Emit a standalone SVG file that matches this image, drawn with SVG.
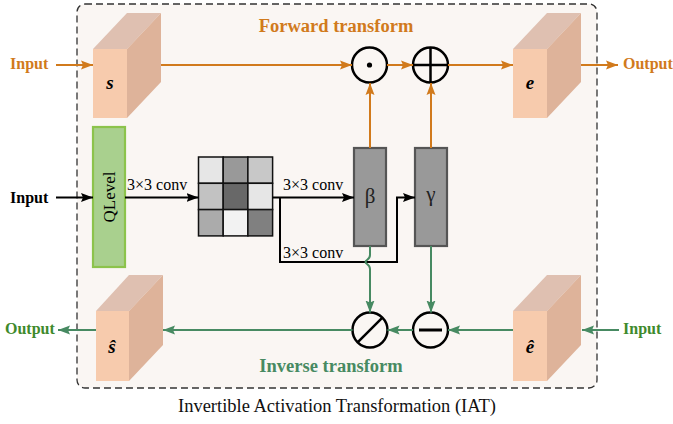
<svg xmlns="http://www.w3.org/2000/svg" width="673" height="424" viewBox="0 0 673 424">
<defs>
<style>
.serif{font-family:"Liberation Serif","Times New Roman",serif}
.bold{font-weight:bold}
.orange{fill:#D17A1C}
.green{fill:#3F8A2C}
.ginv{fill:#478A62}
.front{fill:#F7CBAD}
.top{fill:#DFC0B1}
.side{fill:#DEB39A}
.lo{stroke:#D17A1C;stroke-width:2;fill:none}
.lg{stroke:#478A62;stroke-width:2;fill:none}
.lk{stroke:#000;stroke-width:2;fill:none}
.op{fill:none;stroke:#000;stroke-width:2.5}
.cell{stroke:#111;stroke-width:1.5}
.param{fill:#999;stroke:#555;stroke-width:2.2}
.lbl{font-family:"Liberation Serif","Times New Roman",serif;font-size:16px}
.greek{font-family:"Liberation Serif","Times New Roman",serif;font-size:21px;fill:#222}
.cubel{font-family:"Liberation Serif","Times New Roman",serif;font-size:19px;font-weight:bold;font-style:italic}
</style>
<marker id="ao" markerUnits="userSpaceOnUse" markerWidth="13" markerHeight="10" refX="12" refY="5" orient="auto"><path d="M0,0.5 L12,5 L0,9.5 L2,5 z" fill="#D17A1C"/></marker>
<marker id="ag" markerUnits="userSpaceOnUse" markerWidth="13" markerHeight="10" refX="12" refY="5" orient="auto"><path d="M0,0.5 L12,5 L0,9.5 L2,5 z" fill="#478A62"/></marker>
<marker id="ak" markerUnits="userSpaceOnUse" markerWidth="13" markerHeight="10" refX="12" refY="5" orient="auto"><path d="M0,0.5 L12,5 L0,9.5 L2,5 z" fill="#000"/></marker>
</defs>
<rect width="673" height="424" fill="#fff"/>
<g id="frame">
<rect x="77" y="4" width="520" height="384" rx="8" fill="#FAF6F3" stroke="#333" stroke-width="1.3" stroke-dasharray="7,4"/>
</g>
<text x="336" y="32" text-anchor="middle" class="serif bold orange" font-size="18.5">Forward transform</text>
<text x="331" y="372" text-anchor="middle" class="serif bold ginv" font-size="18.5">Inverse transform</text>
<text x="337" y="412" text-anchor="middle" class="serif" font-size="18.5" fill="#111">Invertible Activation Transformation (IAT)</text>

<g id="cube-s">
<polygon class="top" points="93,49 127,13 161,13 127,49"/>
<polygon class="side" points="127,49 161,13 161,82 127,118"/>
<rect class="front" x="93" y="49" width="34" height="69"/>
<text x="110" y="89" text-anchor="middle" class="cubel">s</text>
</g>
<g id="cube-e">
<polygon class="top" points="513,49 547,13 581,13 547,49"/>
<polygon class="side" points="547,49 581,13 581,82 547,118"/>
<rect class="front" x="513" y="49" width="34" height="69"/>
<text x="530" y="89" text-anchor="middle" class="cubel">e</text>
</g>
<g id="cube-shat">
<polygon class="top" points="96,311 129,275 163,275 129,311"/>
<polygon class="side" points="129,311 163,275 163,345 129,381"/>
<rect class="front" x="96" y="311" width="33" height="70"/>
<text x="112" y="353" text-anchor="middle" class="cubel">ŝ</text>
</g>
<g id="cube-ehat">
<polygon class="top" points="513,311 547,275 581,275 547,311"/>
<polygon class="side" points="547,311 581,275 581,345 547,381"/>
<rect class="front" x="513" y="311" width="34" height="70"/>
<text x="530" y="353" text-anchor="middle" class="cubel">ê</text>
</g>
<g id="qlevel">
<rect x="93" y="127" width="32" height="140" fill="#A9D08E" stroke="#8CC34B" stroke-width="2.2"/>
<text transform="translate(114.5,197) rotate(-90)" text-anchor="middle" class="serif" style="font-size:17px">QLevel</text>
</g>
<g id="kernel">
<rect class="cell" x="198.5" y="157" width="24.7" height="26.3" fill="#E6E6E6"/>
<rect class="cell" x="223.2" y="157" width="24.7" height="26.3" fill="#999"/>
<rect class="cell" x="247.9" y="157" width="24.7" height="26.3" fill="#C8C8C8"/>
<rect class="cell" x="198.5" y="183.3" width="24.7" height="26.3" fill="#C2C2C2"/>
<rect class="cell" x="223.2" y="183.3" width="24.7" height="26.3" fill="#686868"/>
<rect class="cell" x="247.9" y="183.3" width="24.7" height="26.3" fill="#E6E6E6"/>
<rect class="cell" x="198.5" y="209.6" width="24.7" height="26.3" fill="#ABABAB"/>
<rect class="cell" x="223.2" y="209.6" width="24.7" height="26.3" fill="#F2F2F2"/>
<rect class="cell" x="247.9" y="209.6" width="24.7" height="26.3" fill="#808080"/>
</g>
<g id="beta">
<rect class="param" x="354" y="148" width="32" height="98"/>
<text x="370" y="203" text-anchor="middle" class="greek">β</text>
</g>
<g id="gamma">
<rect class="param" x="415" y="148" width="32" height="98"/>
<text x="431" y="201" text-anchor="middle" class="greek">γ</text>
</g>
<g id="odot">
<circle class="op" cx="369.5" cy="65" r="17.5"/>
<circle cx="369.5" cy="65" r="2.6" fill="#000"/>
</g>
<g id="oplus">
<circle class="op" cx="430.5" cy="65" r="17.5"/>
<path class="op" d="M413,65 H448 M430.5,47.5 V82.5"/>
</g>
<g id="oslash">
<circle class="op" cx="370" cy="330" r="17.5"/>
<path class="op" d="M357.6,342.4 L382.4,317.6"/>
</g>
<g id="ominus">
<circle class="op" cx="430.5" cy="330" r="17.5"/>
<path d="M419,330 H442" stroke="#000" stroke-width="3"/>
</g>

<g id="connectors">
<path class="lo" d="M56,65 H93" marker-end="url(#ao)"/>
<path class="lo" d="M161,65 H352" marker-end="url(#ao)"/>
<path class="lo" d="M387,65 H413" marker-end="url(#ao)"/>
<path class="lo" d="M448,65 H513" marker-end="url(#ao)"/>
<path class="lo" d="M581,65 H618" marker-end="url(#ao)"/>
<path class="lo" d="M370,148 V83" marker-end="url(#ao)"/>
<path class="lo" d="M431,148 V83" marker-end="url(#ao)"/>
<path class="lk" d="M56,197.5 H93" marker-end="url(#ak)"/>
<path class="lk" d="M125,197.5 H198.5" marker-end="url(#ak)"/>
<path class="lk" d="M272.6,197.5 H354" marker-end="url(#ak)"/>
<path class="lk" d="M280,197.5 V262 H397 V197.5 H415" marker-end="url(#ak)"/>
<path class="lg" d="M370,246 V255 Q370,258 367,260 Q364,262 367,264 Q370,266 370,269 V312.5" marker-end="url(#ag)"/>
<path class="lg" d="M431,246 V312.5" marker-end="url(#ag)"/>
<path class="lg" d="M513,330 H448" marker-end="url(#ag)"/>
<path class="lg" d="M413,330 H387.5" marker-end="url(#ag)"/>
<path class="lg" d="M352.5,330 H163" marker-end="url(#ag)"/>
<path class="lg" d="M96,330 H58" marker-end="url(#ag)"/>
<path class="lg" d="M619,330 H582" marker-end="url(#ag)"/>
</g>

<text x="10" y="69" class="serif bold orange" font-size="16">Input</text>
<text x="623" y="69" class="serif bold orange" font-size="16">Output</text>
<text x="10" y="203" class="serif bold" font-size="16" fill="#000">Input</text>
<text x="5" y="334" class="serif bold green" font-size="16">Output</text>
<text x="623" y="334" class="serif bold green" font-size="16">Input</text>
<text x="127" y="190" class="lbl" fill="#000">3×3 conv</text>
<text x="283" y="190" class="lbl" fill="#000">3×3 conv</text>
<text x="283" y="258" class="lbl" fill="#000">3×3 conv</text>
</svg>
